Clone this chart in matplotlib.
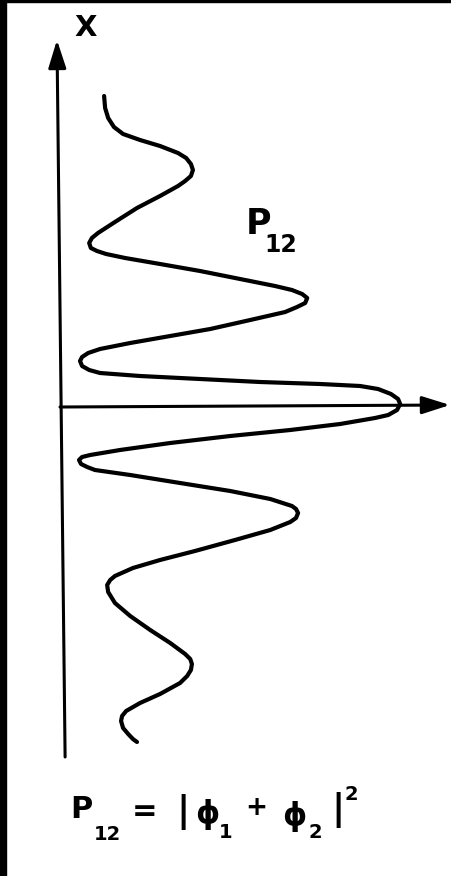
import matplotlib
matplotlib.use("Agg")
import matplotlib.pyplot as plt
from matplotlib.patches import Rectangle, ArrowStyle

# Interference pattern P12 = |phi1 + phi2|^2 sampled along the screen coordinate x
position = [3.11, 2.99, 2.89, 2.80, 2.73, 2.67, 2.61, 2.54, 2.49, 2.43,
            2.37, 2.31, 2.26, 2.21, 2.11, 1.99, 1.85, 1.74, 1.69, 1.64,
            1.59, 1.56, 1.53, 1.49, 1.43, 1.36, 1.28, 1.21, 1.17, 1.13,
            1.09, 1.04, 1.00, 0.95, 0.87, 0.78, 0.71, 0.64, 0.58, 0.54,
            0.50, 0.46, 0.41, 0.37, 0.34, 0.31, 0.28, 0.25, 0.23, 0.21,
            0.18, 0.13, 0.08, 0.03, -0.03, -0.08, -0.11, -0.17, -0.23, -0.29,
            -0.36, -0.43, -0.48, -0.50, -0.53, -0.57, -0.60, -0.63, -0.68, -0.76,
            -0.84, -0.92, -0.99, -1.02, -1.06, -1.11, -1.15, -1.23, -1.33, -1.44,
            -1.53, -1.61, -1.69, -1.73, -1.78, -1.85, -1.96, -2.09, -2.23, -2.36,
            -2.47, -2.52, -2.57, -2.63, -2.69, -2.76, -2.87, -2.96, -3.04, -3.09,
            -3.14, -3.21, -3.27, -3.32, -3.35]
intensity = [0.127, 0.130, 0.139, 0.156, 0.183, 0.233, 0.292, 0.345, 0.369, 0.383,
             0.389, 0.383, 0.366, 0.345, 0.292, 0.224, 0.159, 0.109, 0.091, 0.083,
             0.088, 0.106, 0.133, 0.189, 0.292, 0.410, 0.528, 0.631, 0.681, 0.711,
             0.726, 0.720, 0.696, 0.661, 0.558, 0.440, 0.322, 0.204, 0.115, 0.080,
             0.062, 0.056, 0.062, 0.083, 0.115, 0.233, 0.410, 0.587, 0.764, 0.882,
             0.935, 0.973, 0.994, 1.000, 0.991, 0.965, 0.926, 0.823, 0.676, 0.499,
             0.322, 0.174, 0.086, 0.062, 0.053, 0.059, 0.077, 0.100, 0.204, 0.351,
             0.499, 0.617, 0.681, 0.693, 0.699, 0.693, 0.676, 0.617, 0.513, 0.395,
             0.292, 0.212, 0.159, 0.145, 0.136, 0.139, 0.159, 0.204, 0.263, 0.322,
             0.366, 0.381, 0.386, 0.383, 0.372, 0.351, 0.292, 0.233, 0.192, 0.180,
             0.177, 0.183, 0.198, 0.212, 0.224]

fig = plt.figure(figsize=(4.52, 8.76), dpi=100)
fig.patch.set_facecolor("white")
ax = fig.add_axes([0, 0, 1, 1])
ax.set_xlim(-0.180, 1.153)
ax.set_ylim(-4.69, 4.07)
ax.axis("off")

# scanned-page black edges
fig.patches.append(Rectangle((0, 0), 6 / 452, 1, transform=fig.transFigure,
                             color="black", zorder=0))
fig.patches.append(Rectangle((0, 1 - 2 / 876), 1, 2 / 876, transform=fig.transFigure,
                             color="black", zorder=0))

arrow = ArrowStyle("-|>", head_length=17, head_width=5.4)
# x axis (vertical) and P axis (horizontal)
ax.annotate("", xy=(-0.012, 3.67), xytext=(0.012, -3.50),
            arrowprops=dict(arrowstyle=arrow, color="black", lw=2.2,
                            shrinkA=0, shrinkB=0, mutation_scale=1))
ax.annotate("", xy=(1.147, 0.02), xytext=(-0.003, 0.0),
            arrowprops=dict(arrowstyle=arrow, color="black", lw=2.2,
                            shrinkA=0, shrinkB=0, mutation_scale=1))

ax.plot(intensity, position, color="black", lw=3.0,
        solid_joinstyle="round", solid_capstyle="round", zorder=3)

fam = "DejaVu Sans"
def label(xp, yp, s, size):
    ax.text((xp - 61) / 339, (407 - yp) / 100, s, fontsize=size, family=fam,
            fontweight="bold", ha="center", va="center", color="black")

label(86, 28, "X", 21)
label(258, 224, "P", 25)
label(281, 245, "12", 17)

# P12 = |phi1 + phi2|^2
label(81, 809, "P", 22)
label(107, 834, "12", 14)
label(145, 812, "=", 22)
label(183, 812, "|", 26)
label(207, 815, "ϕ", 22)
label(226, 832, "1", 14)
label(256, 808, "+", 19)
label(294, 817, "ϕ", 22)
label(315, 833, "2", 14)
label(338, 810, "|", 26)
label(351, 795, "2", 14)

fig.savefig("out.png", dpi=100, facecolor="white")
